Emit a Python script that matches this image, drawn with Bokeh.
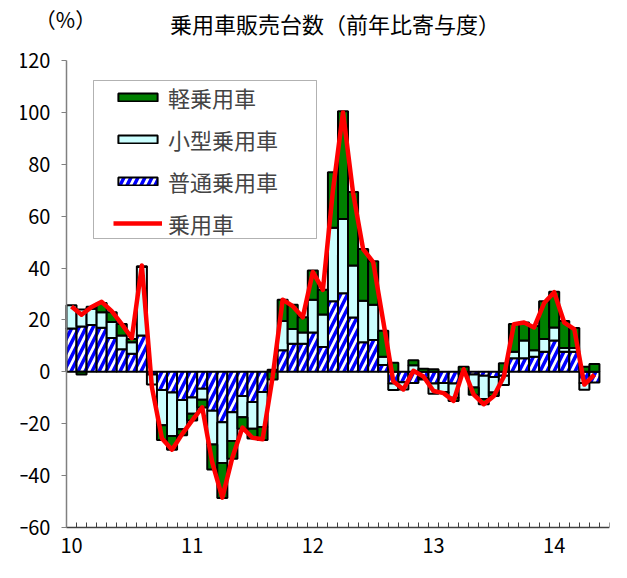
import numpy as np
from bokeh.plotting import figure
from bokeh.models import (Range1d, FixedTicker, Legend, LegendItem, Label,
                          BoxAnnotation, ColumnDataSource)
from bokeh.embed import file_html
from bokeh.resources import INLINE

# ---- data (monthly, Jan 2010 - May 2014), contribution to y/y change, % ----
year_labels = ["10", "11", "12", "13", "14"]
year_index = [0, 12, 24, 36, 48]

normal = [16.7, 17.5, 18.1, 17.0, 13.0, 8.7, 7.0, 14.0, -1.0, -7.0, -8.0, -10.9,
          -9.9, -6.5, -15.0, -19.4, -15.6, -9.3, -11.6, -7.8, 0.8, 8.3, 10.8, 10.8,
          15.2, 9.6, 27.2, 30.3, 20.9, 11.4, 12.3, 2.6, -4.5, -4.0, -4.3, -2.4,
          -4.5, -4.3, -4.5, -0.6, -1.0, -1.5, -2.0, -1.5, 5.2, 5.2, 5.8, 7.7,
          12.1, 7.7, 7.7, -4.3, -4.1]
small = [9.0, 6.5, 6.2, 6.0, 6.2, 5.3, 4.4, 26.4, -3.9, -13.6, -16.7, -11.2,
         -6.3, -4.3, -13.0, -15.7, -11.1, -8.2, -10.3, -13.5, 0.0, 11.3, 5.7, 4.4,
         12.6, 12.5, 28.3, 28.6, 20.1, 16.0, 13.6, 3.2, -2.5, -2.8, 2.5, -0.6,
         -3.9, -3.5, -5.5, -0.4, -5.0, -9.0, -6.0, -3.6, 2.5, 6.9, 2.5, 5.0,
         5.0, 1.5, 1.5, -2.6, 0.0]
kei = [0.0, -1.0, 0.8, 3.5, 3.8, 4.4, 1.3, 0.3, 0.0, -5.7, -5.3, -2.3,
       -2.6, -2.9, -9.6, -13.5, -6.8, -4.4, -3.8, -5.0, -3.0, 8.2, 9.4, 5.8,
       11.3, 9.5, 21.4, 41.5, 28.3, 19.9, 16.7, 10.0, 3.5, 0.0, 2.0, 1.2,
       1.0, -0.4, -1.2, 2.0, -2.8, -2.0, -1.3, 3.3, 10.7, 6.9, 9.4, 14.5,
       13.8, 10.4, 7.7, 2.0, 3.0]
total = [25.2, 22.0, 25.0, 27.0, 23.4, 18.4, 13.0, 41.0, -6.0, -25.7, -30.0, -24.0,
         -18.7, -13.7, -35.0, -48.5, -33.0, -21.5, -25.4, -26.0, -2.0, 27.8, 25.3, 21.0,
         38.5, 31.6, 70.0, 100.0, 69.0, 47.3, 42.3, 19.5, -3.6, -6.8, 0.4, -1.8,
         -7.4, -8.2, -11.2, 1.0, -8.8, -12.5, -9.3, -1.8, 18.4, 19.0, 17.1, 26.5,
         30.7, 19.0, 16.5, -4.9, -1.1]

n = len(total)
months = np.arange(n)

# stacked (positives up, negatives down), series order: normal, small, kei
pos = np.zeros(n)
neg = np.zeros(n)
stacks = []
for s in (normal, small, kei):
    s = np.asarray(s, dtype=float)
    bottom = np.where(s >= 0, pos, neg + s)
    top = np.where(s >= 0, pos + s, neg)
    pos = np.where(s >= 0, pos + s, pos)
    neg = np.where(s < 0, neg + s, neg)
    bottom[s == 0] = np.nan
    top[s == 0] = np.nan
    stacks.append(ColumnDataSource(dict(x=months, bottom=bottom, top=top)))
srcN, srcS, srcK = stacks

FONT = "Noto Sans CJK JP"

# the frame covers the whole canvas; both axes sit at fixed locations and are bounded
p = figure(width=611, height=562, x_range=Range1d(-5.07, 53.5), y_range=Range1d(-73.49, 143.13),
           output_backend="svg", toolbar_location=None,
           min_border_left=20, min_border_right=2, min_border_top=0, min_border_bottom=0)
p.outline_line_color = None
p.xgrid.visible = False
p.ygrid.visible = False
p.background_fill_color = "white"

# y axis (drawn at the left edge of the first month)
p.yaxis.fixed_location = -0.5
p.yaxis.ticker = FixedTicker(ticks=list(range(-60, 121, 20)))
p.yaxis.bounds = (-60, 120)
p.yaxis.major_tick_in = 0
p.yaxis.major_tick_out = 5
p.yaxis.minor_tick_line_color = None
p.yaxis.axis_line_color = "#808080"
p.yaxis.axis_line_width = 1.5
p.yaxis.major_tick_line_color = "#808080"
p.yaxis.major_label_text_font = FONT
p.yaxis.major_label_text_font_size = "20px"
p.yaxis.major_label_text_color = "black"
p.yaxis.major_label_standoff = 11

# x axis (drawn at -60)
p.xaxis.fixed_location = -60
p.xaxis.ticker = FixedTicker(ticks=year_index, minor_ticks=[i - 0.5 for i in range(55)])
p.xaxis.bounds = (-0.5, 53.5)
p.xaxis.major_label_overrides = {i: lab for i, lab in zip(year_index, year_labels)}
p.xaxis.major_tick_line_color = None
p.xaxis.minor_tick_in = 5
p.xaxis.minor_tick_out = 0
p.xaxis.minor_tick_line_color = "#404040"
p.xaxis.axis_line_color = "#404040"
p.xaxis.axis_line_width = 1.5
p.xaxis.major_label_text_font = FONT
p.xaxis.major_label_text_font_size = "20px"
p.xaxis.major_label_text_color = "black"
p.xaxis.major_label_standoff = 4

rN = p.vbar(x="x", width=1, bottom="bottom", top="top", source=srcN,
            fill_color="white", hatch_pattern="/", hatch_color="#0000FF",
            hatch_weight=3.5, hatch_scale=14, line_color="black", line_width=2)
rS = p.vbar(x="x", width=1, bottom="bottom", top="top", source=srcS,
            fill_color="#CCFFFF", line_color="black", line_width=2)
rK = p.vbar(x="x", width=1, bottom="bottom", top="top", source=srcK,
            fill_color="#008000", line_color="black", line_width=2)
rL = p.line(months, total, line_color="#FF0000", line_width=4.5, line_join="round")

box = BoxAnnotation(left=73, right=296, top=482, bottom=324,
                    left_units="screen", right_units="screen",
                    top_units="screen", bottom_units="screen",
                    fill_color="white", fill_alpha=1.0, line_color="black", line_width=1)
p.add_layout(box)

legend = Legend(items=[LegendItem(label="軽乗用車", renderers=[rK]),
                       LegendItem(label="小型乗用車", renderers=[rS]),
                       LegendItem(label="普通乗用車", renderers=[rN]),
                       LegendItem(label="乗用車", renderers=[rL])],
                location=(93, 323), padding=6, spacing=10,
                glyph_width=49, glyph_height=10, label_standoff=6, label_height=20,
                label_text_font=FONT, label_text_font_size="22px",
                border_line_color=None, background_fill_alpha=0)
p.add_layout(legend)

title = Label(x=314.5, y=540, x_units="screen", y_units="screen",
              text="乗用車販売台数（前年比寄与度）", text_align="center", text_baseline="middle",
              text_font=FONT, text_font_size="22px", text_color="black")
unit = Label(x=45, y=544, x_units="screen", y_units="screen",
             text="（%）", text_align="center", text_baseline="middle",
             text_font=FONT, text_font_size="21px", text_color="black")
p.add_layout(title)
p.add_layout(unit)

open("out.html", "w").write(file_html(p, INLINE))
